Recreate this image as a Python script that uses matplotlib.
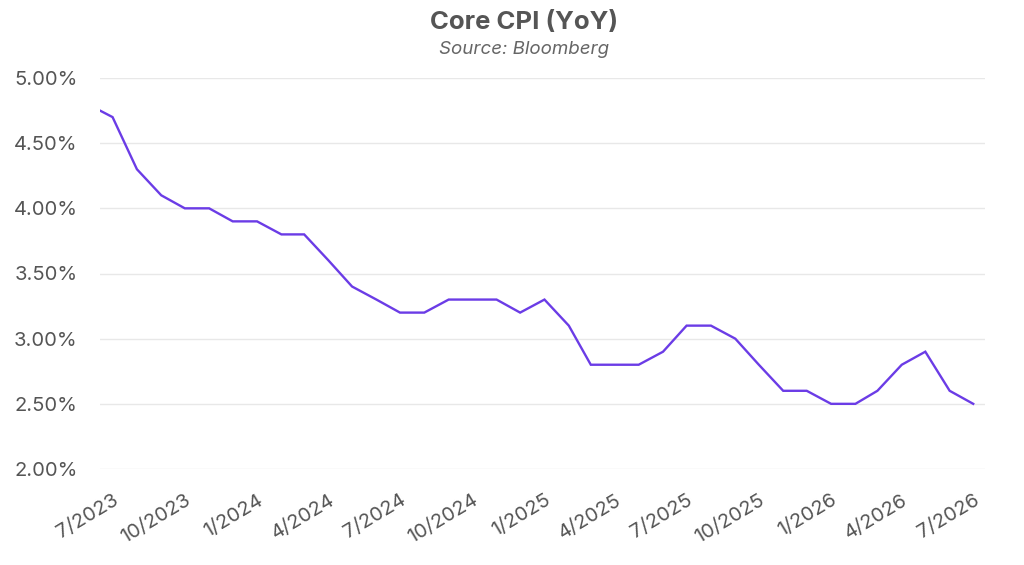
import matplotlib
matplotlib.use("Agg")
import matplotlib.pyplot as plt
import matplotlib.ticker as mticker
import pandas as pd

dates = ["2023-06-15"] + [d.strftime("%Y-%m-%d") for d in pd.date_range("2023-07-01", "2026-07-01", freq="MS")]
values = [4.75,
          4.70, 4.30, 4.10, 4.00, 4.00, 3.90,
          3.90, 3.80, 3.80, 3.60, 3.40, 3.30,
          3.20, 3.20, 3.30, 3.30, 3.30, 3.20,
          3.30, 3.10, 2.80, 2.80, 2.80, 2.90,
          3.10, 3.10, 3.00, 2.80, 2.60, 2.60,
          2.50, 2.50, 2.60, 2.80, 2.90, 2.60,
          2.50]
tick_dates = ["2023-07-01", "2023-10-01", "2024-01-01", "2024-04-01", "2024-07-01",
              "2024-10-01", "2025-01-01", "2025-04-01", "2025-07-01", "2025-10-01",
              "2026-01-01", "2026-04-01", "2026-07-01"]
tick_labels = ["7/2023", "10/2023", "1/2024", "4/2024", "7/2024", "10/2024", "1/2025",
               "4/2025", "7/2025", "10/2025", "1/2026", "4/2026", "7/2026"]
y_ticks = [2.0, 2.5, 3.0, 3.5, 4.0, 4.5, 5.0]

plt.rcParams['font.family'] = ['Inter', 'DejaVu Sans']

fig = plt.figure(figsize=(10.24, 5.65), dpi=100)
ax = fig.add_axes([100/1024, 1-469/565, 885/1024, 391/565])

x = pd.to_datetime(dates)
ax.plot(x, values, color="#6B3CE6", linewidth=1.7, solid_joinstyle="miter")

ax.set_ylim(2.0, 5.0)
ax.set_xlim(pd.Timestamp("2023-06-15"), pd.Timestamp("2026-07-16"))
ax.set_yticks(y_ticks)
ax.yaxis.set_major_formatter(mticker.FuncFormatter(lambda v, p: f"{v:.2f}%"))
ax.set_xticks(pd.to_datetime(tick_dates))
ax.set_xticklabels(tick_labels, rotation=31, ha="right", va="top", rotation_mode="anchor")

ax.grid(axis="y", color="#e8e8e8", linewidth=1)
ax.set_axisbelow(True)
for s in ax.spines.values():
    s.set_visible(False)
ax.tick_params(axis="both", length=0, labelsize=14.5, labelcolor="#555555")
ax.tick_params(axis="y", pad=16)
ax.tick_params(axis="x", pad=16)

fig.text(524/1024, 1-22/565, "Core CPI (YoY)", ha="center", va="center",
         fontsize=18.5, fontweight="bold", color="#555555")
fig.text(524/1024, 1-50/565, "Source: Bloomberg", ha="center", va="center",
         fontsize=13.5, fontstyle="italic", color="#666666")

fig.savefig("out.png", dpi=100)
